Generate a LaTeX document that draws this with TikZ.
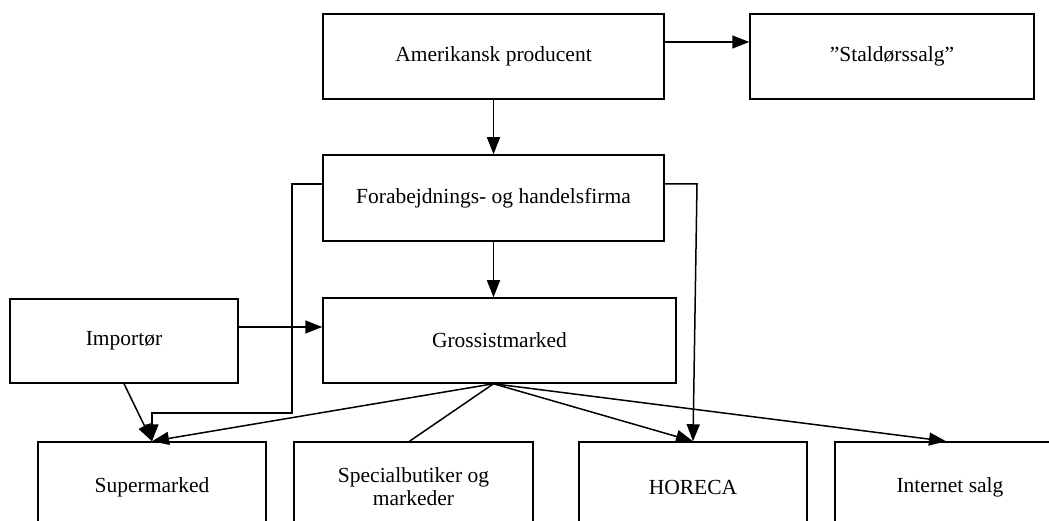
\documentclass[tikz,border=0pt]{standalone}
\usepackage{fontspec}
\setmainfont{Liberation Serif}
\usetikzlibrary{arrows.meta}
\tikzset{
  box/.style={draw, line width=1.5pt, rectangle, inner sep=0pt, align=center,
    font=\fontsize{21.5}{23}\selectfont},
  conn/.style={line width=1.5pt},
  arr/.style={conn, -{Triangle[length=17pt,width=13pt]}},
}
\begin{document}
\begin{tikzpicture}[x=1pt,y=-1pt]
\useasboundingbox (0,0) rectangle (1049,521);
\clip (0,0) rectangle (1049,521);
\node[box, minimum width=341pt, minimum height=85pt] (A) at (493.5,56.5) {Amerikansk producent};
\node[box, minimum width=284pt, minimum height=85pt] (S) at (892,56.5) {"Staldørssalg"};
\node[box, minimum width=341pt, minimum height=86pt] (F) at (493.5,198) {Forabejdnings- og handelsfirma};
\node[box, minimum width=353pt, minimum height=85pt] (G) at (499.5,340.5) {Grossistmarked};
\node[box, minimum width=228pt, minimum height=84pt] (I) at (124,341) {Importør};
\node[box, minimum width=228pt, minimum height=90pt] (Su) at (152,487) {Supermarked};
\node[box, minimum width=239pt, minimum height=90pt] (Sp) at (413.5,487) {Specialbutiker og\\markeder};
\node[box, minimum width=228pt, minimum height=90pt] (H) at (693,487) {HORECA};
\node[box, minimum width=230pt, minimum height=90pt] (N) at (950,487) {Internet salg};
\coordinate (gb) at (G.south -| F.south);
\coordinate (fl) at (292,413);
\coordinate (fr) at (697,184);
\draw[arr] (A.east |- 0,42) -- (S.west |- 0,42);
\draw[arr] (A.south) -- (F.north);
\draw[arr] (F.south) -- (F.south |- G.north);
\draw[arr] (I.east |- 0,327) -- (G.west |- 0,327);
\draw[arr] (I.south) -- (Su.north);
\draw[arr] (F.west |- 0,184) -| (fl) -| (Su.north);
\draw[arr] (F.east |- 0,184) -- (fr) -- (H.north);
\draw[arr] (gb) -- (Su.north);
\draw[conn] (gb) -- ([xshift=-4pt]Sp.north);
\draw[arr] (gb) -- (H.north);
\draw[arr] (gb) -- ([xshift=-4pt]N.north);
\end{tikzpicture}
\end{document}
